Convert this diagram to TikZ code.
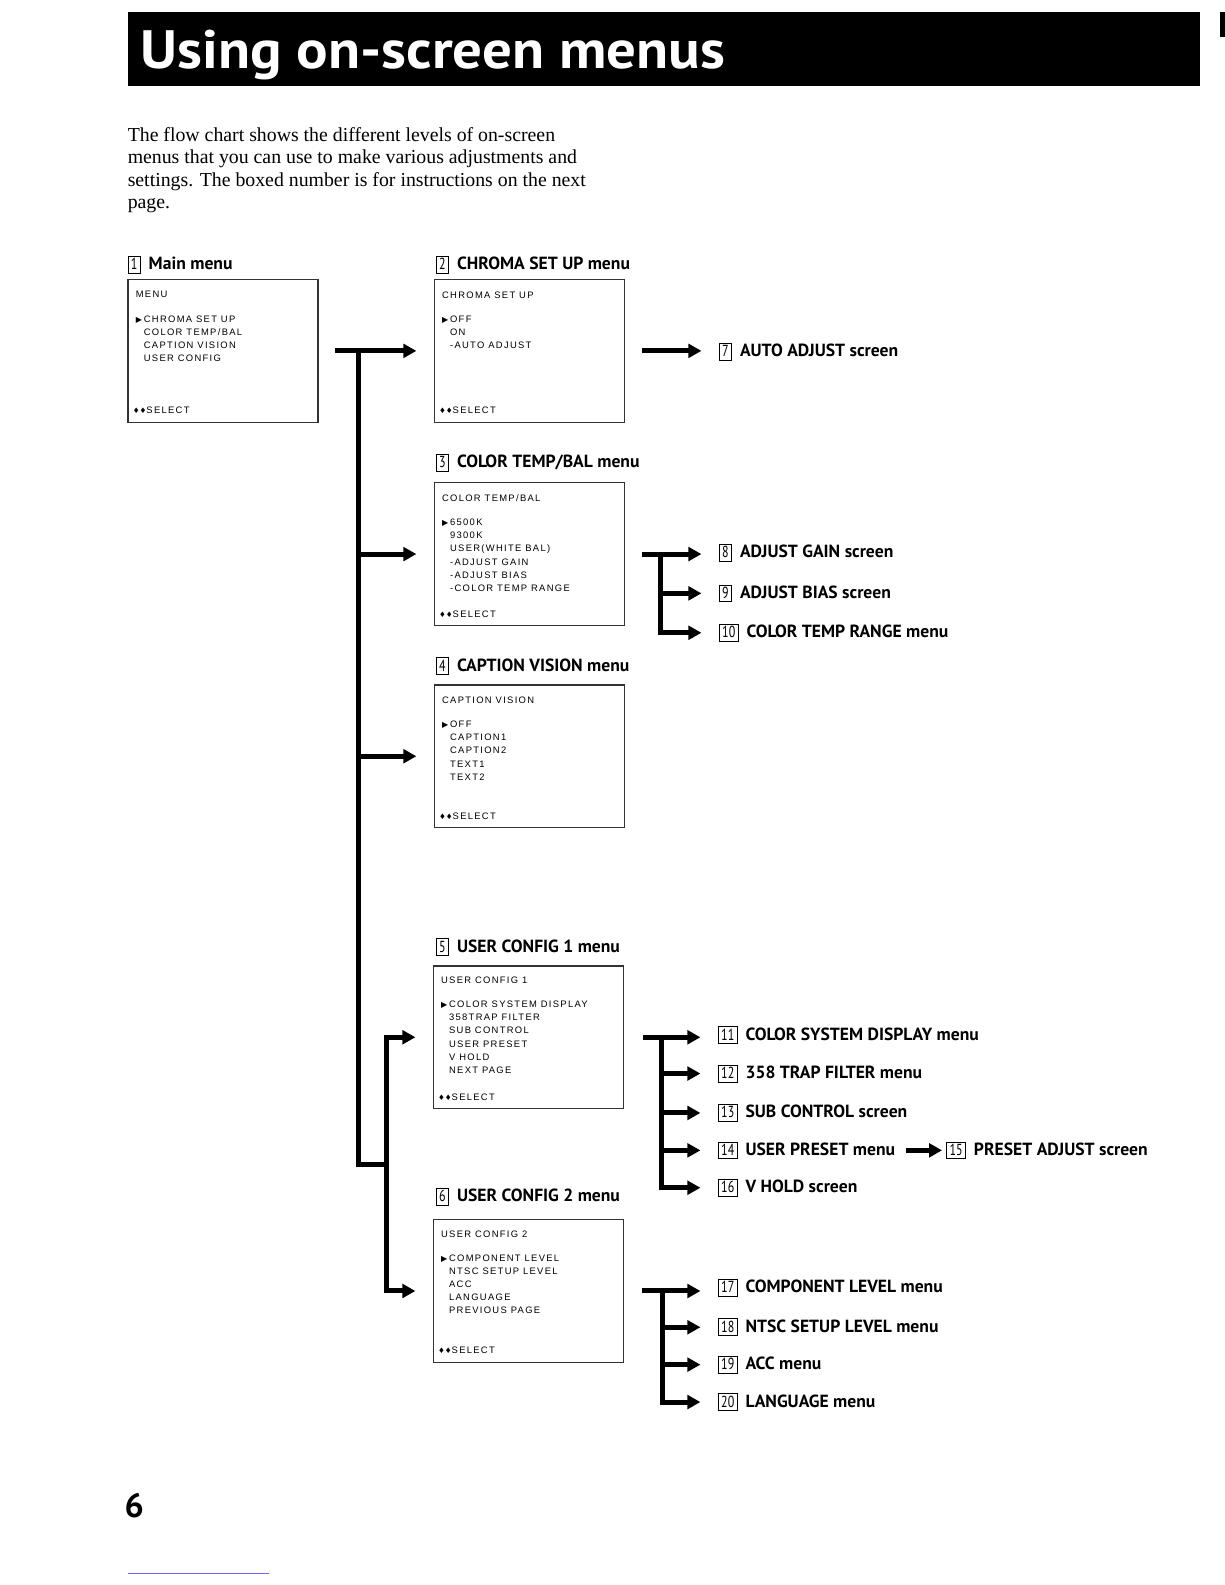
\documentclass[tikz,border=0pt]{standalone}
\usepackage{fontspec}
\setmainfont{Liberation Serif}
\newfontfamily\headfont{PT Sans}
\newfontfamily\scrfont{Liberation Sans}[LetterSpace=14]
\newfontfamily\symfont{DejaVu Sans}
\usetikzlibrary{arrows.meta,calc,positioning}

% boxed step number in front of the headings
\newcommand{\nbox}[1]{{\fboxsep=0.7pt\fboxrule=0.4pt\fbox{\mdseries\rule[-0.8pt]{0pt}{6.6pt}%
  \hspace{0.5pt}\scalebox{0.75}[1]{\fontsize{8}{9}\selectfont#1}\hspace{0.5pt}}}\hspace{1.8pt}}
\newcommand{\tri}{\makebox[4pt][l]{\symfont\fontsize{4}{4}\selectfont ▶}}
\newcommand{\ind}{\hspace*{4pt}}
\newcommand{\selicon}{{\symfont\fontsize{3.8}{4}\selectfont ♦♦}}

\tikzset{
  screen/.style={draw=black!80, line width=0.6pt, minimum width=95pt,
    minimum height=71.3pt, anchor=north west, inner sep=0pt},
  scrtxt/.style={font=\scrfont\fontsize{4.7}{6.57}\selectfont, align=left,
    inner sep=0pt},
  head/.style={font=\headfont\bfseries\fontsize{8.8}{10}\selectfont,
    inner sep=0pt, anchor=west},
  flow/.style={line width=2.5pt, -{Triangle[length=6.5pt,width=6.8pt]}},
  trunk/.style={line width=2.5pt},
}

\begin{document}
\begin{tikzpicture}[x=0.50536pt, y=-0.50542pt]
  \useasboundingbox (0,0) rectangle (1212,1568);

  % title bar and intro
  \fill (127,12) rectangle (1187,85);
  \fill (1207,12) rectangle (1212,37);
  \node[anchor=base west, text=white, inner sep=0pt,
    font=\headfont\bfseries\fontsize{27}{30}\selectfont] (title) at (139,68)
    {\scalebox{1.09}[1]{Using on-screen menus}};
  \node[anchor=north west, align=left, inner sep=0pt,
    font=\fontsize{9.9}{11.1}\selectfont] (intro) at (126,126)
    {The flow chart shows the different levels of on-screen\\
     menus that you can use to make various adjustments and\\
     settings. The boxed number is for instructions on the next\\
     page.};

  % menu screens
  \node[screen] (s1) at (126,276) {};
  \node[screen] (s2) at (429,276) {};
  \node[screen] (s3) at (429,477) {};
  \node[screen] (s4) at (429,677) {};
  \node[screen] (s5) at (428,955) {};
  \node[screen] (s6) at (428,1206) {};

  \node[head] (h1) at ($(s1.north west)+(0,-14)$) {\nbox{1} Main menu};
  \node[head] (h2) at ($(s2.north west)+(2,-14)$) {\nbox{2} CHROMA SET UP menu};
  \node[head] (h3) at ($(s3.north west)+(2,-19)$) {\nbox{3} COLOR TEMP/BAL menu};
  \node[head] (h4) at ($(s4.north west)+(2,-18)$) {\nbox{4} CAPTION VISION menu};
  \node[head] (h5) at ($(s5.north west)+(3,-18)$) {\nbox{5} USER CONFIG 1 menu};
  \node[head] (h6) at ($(s6.north west)+(3,-22)$) {\nbox{6} USER CONFIG 2 menu};

  % screen texts
  \node[scrtxt, anchor=north west] (t1) at ($(s1.north west)+(8,12)$)
    {MENU\\[5.5pt] \tri CHROMA SET UP\\ \ind COLOR TEMP/BAL\\
     \ind CAPTION VISION\\ \ind USER CONFIG};
  \node[scrtxt, anchor=north west] (t2) at ($(s2.north west)+(8,12)$)
    {CHROMA SET UP\\[5.5pt] \tri OFF\\ \ind ON\\ \ind -AUTO ADJUST};
  \node[scrtxt, anchor=north west] (t3) at ($(s3.north west)+(8,12)$)
    {COLOR TEMP/BAL\\[5.5pt] \tri 6500K\\ \ind 9300K\\ \ind USER(WHITE BAL)\\
     \ind -ADJUST GAIN\\ \ind -ADJUST BIAS\\ \ind -COLOR TEMP RANGE};
  \node[scrtxt, anchor=north west] (t4) at ($(s4.north west)+(8,12)$)
    {CAPTION VISION\\[5.5pt] \tri OFF\\ \ind CAPTION1\\ \ind CAPTION2\\
     \ind TEXT1\\ \ind TEXT2};
  \node[scrtxt, anchor=north west] (t5) at ($(s5.north west)+(8,11)$)
    {USER CONFIG 1\\[5.5pt] \tri COLOR SYSTEM DISPLAY\\ \ind 358TRAP FILTER\\
     \ind SUB CONTROL\\ \ind USER PRESET\\ \ind V HOLD\\ \ind NEXT PAGE};
  \node[scrtxt, anchor=north west] (t6) at ($(s6.north west)+(8,11)$)
    {USER CONFIG 2\\[5.5pt] \tri COMPONENT LEVEL\\ \ind NTSC SETUP LEVEL\\
     \ind ACC\\ \ind LANGUAGE\\ \ind PREVIOUS PAGE};

  \node[scrtxt, anchor=west] (e1) at ($(s1.south west)+(5,-12)$) {\selicon SELECT};
  \node[scrtxt, anchor=west] (e2) at ($(s2.south west)+(5,-12)$) {\selicon SELECT};
  \node[scrtxt, anchor=west] (e3) at ($(s3.south west)+(5,-12)$) {\selicon SELECT};
  \node[scrtxt, anchor=west] (e4) at ($(s4.south west)+(5,-12)$) {\selicon SELECT};
  \node[scrtxt, anchor=west] (e5) at ($(s5.south west)+(5,-12)$) {\selicon SELECT};
  \node[scrtxt, anchor=west] (e6) at ($(s6.south west)+(5,-12)$) {\selicon SELECT};

  % right hand items
  \node[head] (l7) at (711,348) {\nbox{7} AUTO ADJUST screen};
  \node[head] (l8) at (711,547) {\nbox{8} ADJUST GAIN screen};
  \node[head] (l9) at (711,587) {\nbox{9} ADJUST BIAS screen};
  \node[head] (l10) at (711,626) {\nbox{10} COLOR TEMP RANGE menu};
  \node[head] (l11) at (710,1024) {\nbox{11} COLOR SYSTEM DISPLAY menu};
  \node[head] (l12) at (710,1062) {\nbox{12} 358 TRAP FILTER menu};
  \node[head] (l13) at (710,1101) {\nbox{13} SUB CONTROL screen};
  \node[head] (l14) at (710,1138) {\nbox{14} USER PRESET menu};
  \node[head] (l15) at (936,1138) {\nbox{15} PRESET ADJUST screen};
  \node[head] (l16) at (710,1175) {\nbox{16} V HOLD screen};
  \node[head] (l17) at (710,1274) {\nbox{17} COMPONENT LEVEL menu};
  \node[head] (l18) at (710,1313) {\nbox{18} NTSC SETUP LEVEL menu};
  \node[head] (l19) at (710,1350) {\nbox{19} ACC menu};
  \node[head] (l20) at (710,1387) {\nbox{20} LANGUAGE menu};

  % main menu tree
  \coordinate (k1) at ($(s1.east)+(40,0)$);
  \coordinate (k2) at ($(k1 |- s5.west)!0.5!(k1 |- s6.west)$);
  \coordinate (k3) at ($(k2)+(27,0)$);
  \draw[trunk] (k1) -- (k2) -- (k3);
  \draw[flow, shorten <=8pt, shorten >=8.6pt] (s1.east) -- (s2.west);
  \draw[flow, shorten >=8.6pt] (k1 |- s3.west) -- (s3.west);
  \draw[flow, shorten >=8.6pt] (k1 |- s4.west) -- (s4.west);
  \draw[flow, shorten >=8.6pt] (k3) |- (s5.west);
  \draw[flow, shorten >=8.6pt] (k3) |- (s6.west);

  % sub menus
  \draw[flow, shorten <=8.6pt] (s2.east) -- ($(s2.east -| l7.west)+(-17,0)$);

  \coordinate (r3) at ($(s3.east)+(35,0)$);
  \draw[flow, shorten <=8.6pt] (s3.east) -- ($(s3.east -| l8.west)+(-17,0)$);
  \draw[flow] (r3) |- ($(l9.west)+(-17,0)$);
  \draw[flow] (r3) |- ($(l10.west)+(-17,0)$);

  \coordinate (r5) at ($(s5.east)+(37,0)$);
  \draw[flow, shorten <=9.5pt] (s5.east) -- ($(s5.east -| l11.west)+(-17,0)$);
  \draw[flow] (r5) |- ($(l12.west)+(-17,0)$);
  \draw[flow] (r5) |- ($(l13.west)+(-17,0)$);
  \draw[flow] (r5) |- ($(l14.west)+(-17,0)$);
  \draw[flow] (r5) |- ($(l16.west)+(-17,0)$);
  \draw[flow, shorten <=5pt, shorten >=2pt] (l14.east) -- (l15.west);

  \coordinate (r6) at ($(s6.east)+(38,0)$);
  \draw[flow, shorten <=9pt] (s6.east) -- ($(s6.east -| l17.west)+(-17,0)$);
  \draw[flow] (r6) |- ($(l18.west)+(-17,0)$);
  \draw[flow] (r6) |- ($(l19.west)+(-17,0)$);
  \draw[flow] (r6) |- ($(l20.west)+(-17,0)$);

  % page number
  \node[anchor=base west, inner sep=0pt,
    font=\headfont\bfseries\fontsize{17}{20}\selectfont] (pnum) at (123,1501) {6};
  \draw[blue!60, line width=0.5pt] (127,1557) -- (266,1557);
\end{tikzpicture}
\end{document}
